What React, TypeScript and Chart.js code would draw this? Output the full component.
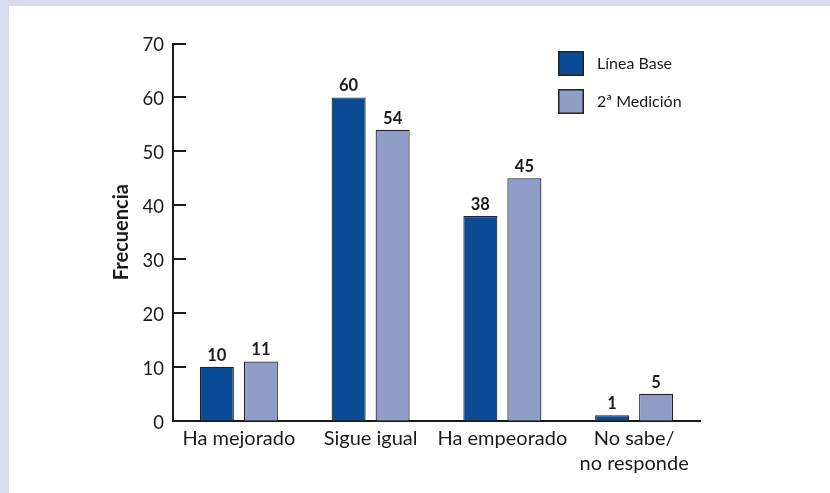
import React, { useEffect, useRef } from "react";
import { Chart, registerables } from "chart.js";

Chart.register(...registerables);

const categories: (string | string[])[] = [
  "Ha mejorado",
  "Sigue igual",
  "Ha empeorado",
  ["No sabe/", "no responde"],
];
const seriesNames = ["Línea Base", "2ª Medición"];
const lineaBase = [10, 60, 38, 1];
const segundaMedicion = [11, 54, 45, 5];
const yMin = 0;
const yMax = 70;
const yStep = 10;
const yTitle = "Frecuencia";

const COLORS = ["#0b4a94", "#8f9dc8"];
const INK = "#1a1a1a";
const FONT = "Lato, 'DejaVu Sans', sans-serif";

const W = 830;
const H = 493;

const inwardTicks = {
  id: "inwardTicks",
  afterDraw(chart: any) {
    const y = chart.scales.y;
    const { ctx, chartArea } = chart;
    ctx.save();
    ctx.strokeStyle = INK;
    ctx.lineWidth = 2;
    y.ticks.forEach((t: any) => {
      const py = Math.round(y.getPixelForValue(t.value));
      ctx.beginPath();
      ctx.moveTo(chartArea.left - 1, py);
      ctx.lineTo(chartArea.left + 13, py);
      ctx.stroke();
    });
    ctx.restore();
  },
};

const valueLabels = {
  id: "valueLabels",
  afterDatasetsDraw(chart: any) {
    const { ctx } = chart;
    ctx.save();
    ctx.fillStyle = INK;
    ctx.font = `bold 16.5px ${FONT}`;
    ctx.textAlign = "center";
    ctx.textBaseline = "alphabetic";
    chart.data.datasets.forEach((ds: any, i: number) => {
      const meta = chart.getDatasetMeta(i);
      meta.data.forEach((el: any, j: number) => {
        ctx.fillText(String(ds.data[j]), el.x, el.y - 6);
      });
    });
    ctx.restore();
  },
};

const boxLegend = {
  id: "boxLegend",
  afterDraw(chart: any) {
    const { ctx, chartArea } = chart;
    const x0 = chartArea.right - 142;
    const y0 = chartArea.top + 7.5;
    ctx.save();
    chart.data.datasets.forEach((ds: any, i: number) => {
      const by = y0 + i * 38;
      ctx.fillStyle = ds.backgroundColor;
      ctx.fillRect(x0, by, 26, 25);
      ctx.strokeStyle = "#222222";
      ctx.lineWidth = 1.5;
      ctx.strokeRect(x0 + 0.75, by + 0.75, 24.5, 23.5);
      ctx.fillStyle = INK;
      ctx.font = `16px ${FONT}`;
      ctx.textAlign = "left";
      ctx.textBaseline = "middle";
      ctx.fillText(ds.label, x0 + 39, by + 13);
    });
    ctx.restore();
  },
};

export default function App() {
  const ref = useRef<HTMLCanvasElement | null>(null);

  useEffect(() => {
    if (!ref.current) return;
    Chart.defaults.font.family = FONT;
    Chart.defaults.color = INK;
    const chart = new Chart(ref.current, {
      type: "bar",
      data: {
        labels: categories,
        datasets: [
          {
            label: seriesNames[0],
            data: lineaBase,
            backgroundColor: COLORS[0],
            borderColor: "#222222",
            borderWidth: 1.2,
          },
          {
            label: seriesNames[1],
            data: segundaMedicion,
            backgroundColor: COLORS[1],
            borderColor: "#222222",
            borderWidth: 1.2,
          },
        ],
      },
      options: {
        responsive: false,
        animation: false,
        categoryPercentage: 0.668,
        barPercentage: 0.773,
        layout: { padding: { left: 0, top: 43.5, right: 130, bottom: 0 } },
        plugins: {
          legend: { display: false },
          tooltip: { enabled: false },
        },
        scales: {
          x: {
            offset: true,
            grid: { display: false, drawTicks: false },
            border: { display: true, color: INK, width: 2 },
            ticks: {
              color: INK,
              padding: 5,
              maxRotation: 0,
              autoSkip: false,
              font: { size: 20, lineHeight: 1.25 },
            },
            afterFit(scale: any) {
              scale.height = 72.3;
              scale.paddingLeft = 0;
              scale.paddingRight = 0;
            },
          },
          y: {
            min: yMin,
            max: yMax,
            grid: { display: false, drawTicks: false },
            border: { display: true, color: INK, width: 2 },
            ticks: {
              stepSize: yStep,
              color: INK,
              padding: 9,
              labelOffset: 2,
              font: { size: 18.5 },
            },
            title: {
              display: true,
              text: yTitle,
              color: INK,
              font: { size: 20, weight: "bold" },
              padding: { top: 110, bottom: 0 },
            },
            afterFit(scale: any) {
              scale.width = 173;
              scale.paddingTop = 0;
              scale.paddingBottom = 0;
            },
          },
        },
      },
      plugins: [inwardTicks, valueLabels, boxLegend],
    });
    return () => chart.destroy();
  }, []);

  return (
    <div
      style={{
        position: "absolute",
        left: 0,
        top: 0,
        width: W,
        height: H,
        background: "#d9dcee",
        overflow: "hidden",
      }}
    >
      <div
        style={{
          position: "absolute",
          left: 9,
          top: 6,
          right: 0,
          bottom: 0,
          background: "#ffffff",
        }}
      />
      <canvas
        ref={ref}
        width={W}
        height={H}
        style={{ position: "absolute", left: 0, top: 0, width: W, height: H }}
      />
    </div>
  );
}
